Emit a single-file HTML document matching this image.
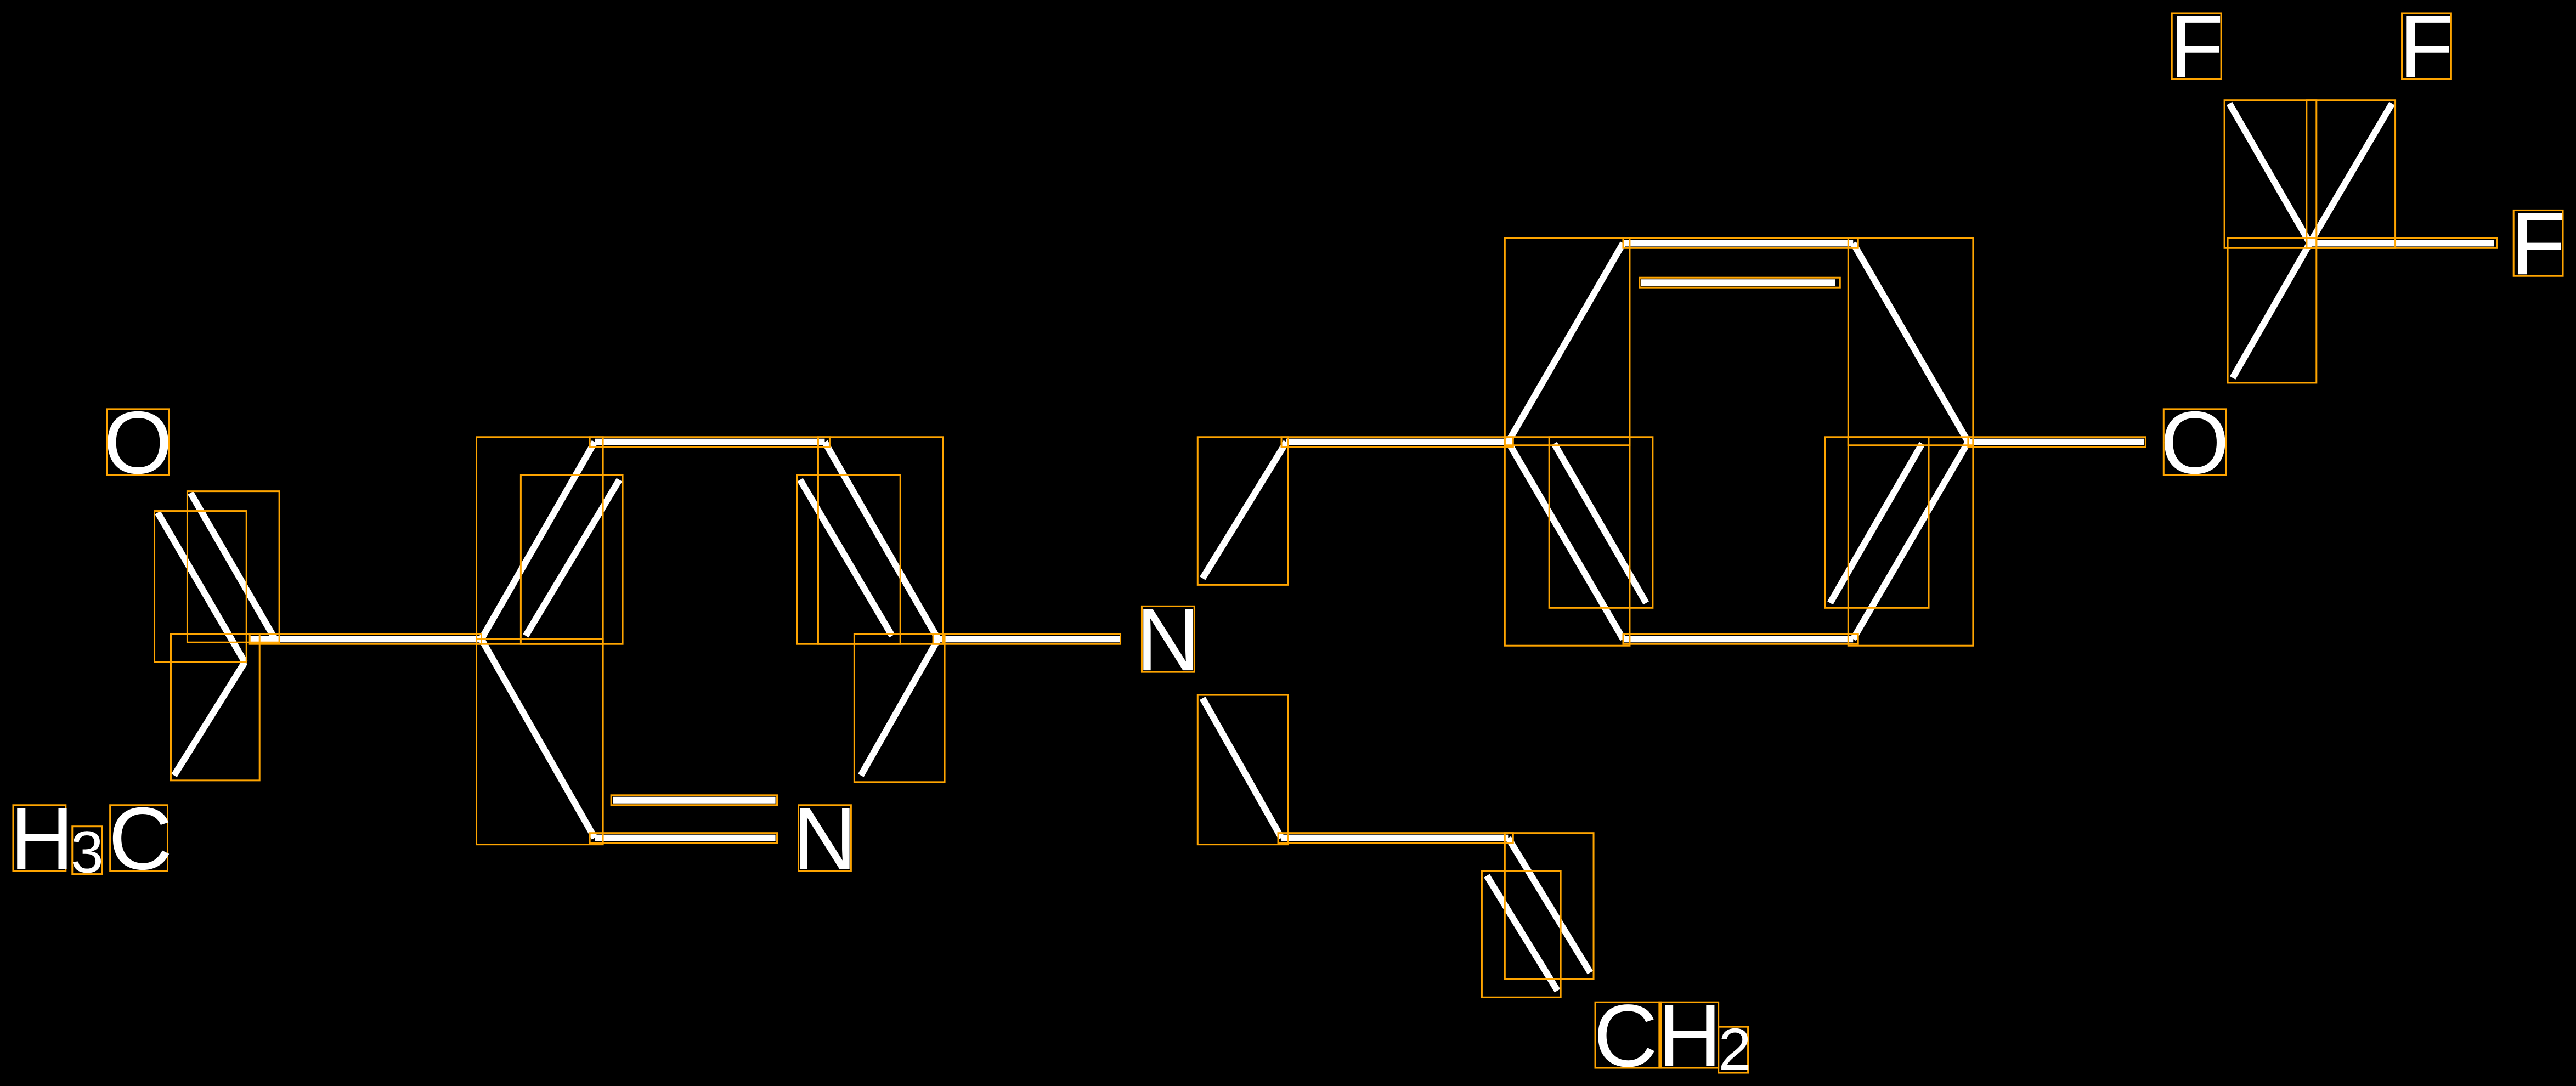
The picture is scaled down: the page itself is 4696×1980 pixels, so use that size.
<!DOCTYPE html>
<html><head><meta charset="utf-8"><style>html,body{margin:0;padding:0;background:#000}svg{display:block}</style></head>
<body>
<svg width="4696" height="1980" viewBox="0 0 1568 661" preserveAspectRatio="none" xmlns="http://www.w3.org/2000/svg">
<rect width="1568" height="661" fill="#000"/>
<g stroke="#fff" stroke-width="4" fill="none">
<line x1="96" y1="312" x2="149" y2="403"/>
<line x1="116" y1="300" x2="168" y2="390"/>
<line x1="149" y1="403" x2="106" y2="472"/>
<line x1="152" y1="389" x2="293" y2="389"/>
<line x1="293" y1="389" x2="362" y2="269"/>
<line x1="320" y1="387" x2="377" y2="292"/>
<line x1="362" y1="269" x2="502" y2="269"/>
<line x1="502" y1="269" x2="571" y2="389"/>
<line x1="487" y1="292" x2="543" y2="387"/>
<line x1="571" y1="389" x2="524" y2="472"/>
<line x1="293" y1="389" x2="362" y2="510"/>
<line x1="362" y1="510" x2="472" y2="510"/>
<line x1="373" y1="487" x2="472" y2="487"/>
<line x1="571" y1="389" x2="682" y2="389"/>
<line x1="732" y1="352" x2="783" y2="269"/>
<line x1="783" y1="269" x2="918" y2="269"/>
<line x1="918" y1="269" x2="988" y2="148"/>
<line x1="988" y1="148" x2="1128" y2="148"/>
<line x1="999" y1="172" x2="1117" y2="172"/>
<line x1="1128" y1="148" x2="1198" y2="269"/>
<line x1="1198" y1="269" x2="1128" y2="389"/>
<line x1="1170" y1="270" x2="1114" y2="367"/>
<line x1="1128" y1="389" x2="988" y2="389"/>
<line x1="988" y1="389" x2="918" y2="269"/>
<line x1="946" y1="270" x2="1002" y2="367"/>
<line x1="1198" y1="269" x2="1305" y2="269"/>
<line x1="1406" y1="148" x2="1518" y2="148"/>
<line x1="1406" y1="148" x2="1357" y2="63"/>
<line x1="1406" y1="148" x2="1456" y2="63"/>
<line x1="1406" y1="148" x2="1359" y2="230"/>
<line x1="732" y1="425" x2="780" y2="510"/>
<line x1="780" y1="510" x2="918" y2="510"/>
<line x1="918" y1="510" x2="968" y2="592"/>
<line x1="905" y1="533" x2="948" y2="603"/>
</g>
<g stroke="#ffa500" stroke-width="1" fill="none">
<rect x="65" y="249" width="38" height="40"/>
<rect x="94" y="311" width="56" height="92"/>
<rect x="114" y="299" width="56" height="92"/>
<rect x="104" y="386" width="54" height="89"/>
<rect x="152" y="386" width="141" height="6"/>
<rect x="290" y="266" width="77" height="126"/>
<rect x="317" y="289" width="62" height="103"/>
<rect x="290" y="389" width="77" height="125"/>
<rect x="359" y="266" width="146" height="6"/>
<rect x="498" y="266" width="76" height="126"/>
<rect x="485" y="289" width="63" height="103"/>
<rect x="520" y="386" width="55" height="90"/>
<rect x="568" y="386" width="114" height="6"/>
<rect x="372" y="484" width="101" height="6"/>
<rect x="359" y="507" width="114" height="6"/>
<rect x="486" y="490" width="32" height="40"/>
<rect x="695" y="369" width="32" height="40"/>
<rect x="729" y="266" width="55" height="90"/>
<rect x="780" y="266" width="141" height="6"/>
<rect x="916" y="145" width="76" height="126"/>
<rect x="988" y="145" width="143" height="6"/>
<rect x="998" y="169" width="122" height="6"/>
<rect x="1125" y="145" width="76" height="126"/>
<rect x="1198" y="266" width="108" height="6"/>
<rect x="916" y="266" width="76" height="127"/>
<rect x="943" y="266" width="63" height="104"/>
<rect x="1111" y="266" width="63" height="104"/>
<rect x="1125" y="266" width="76" height="127"/>
<rect x="988" y="386" width="143" height="6"/>
<rect x="1317" y="249" width="38" height="40"/>
<rect x="1354" y="61" width="56" height="90"/>
<rect x="1404" y="61" width="54" height="90"/>
<rect x="1404" y="145" width="116" height="6"/>
<rect x="1356" y="145" width="54" height="88"/>
<rect x="1322" y="8" width="30" height="40"/>
<rect x="1462" y="8" width="30" height="40"/>
<rect x="1530" y="128" width="30" height="40"/>
<rect x="729" y="423" width="55" height="91"/>
<rect x="778" y="507" width="143" height="6"/>
<rect x="916" y="507" width="54" height="89"/>
<rect x="902" y="530" width="48" height="77"/>
<rect x="971" y="610" width="40" height="40"/>
<rect x="1010" y="610" width="36" height="40"/>
<rect x="1046" y="625" width="18" height="28"/>
<rect x="8" y="490" width="32" height="40"/>
<rect x="44" y="503" width="18" height="29"/>
<rect x="67" y="490" width="35" height="40"/>
</g>
<g fill="#fff" font-family="Liberation Sans, sans-serif" font-size="54">
<text x="84" y="288" text-anchor="middle">O</text>
<text x="502" y="529" text-anchor="middle">N</text>
<text x="711" y="408" text-anchor="middle">N</text>
<text x="1336" y="288" text-anchor="middle">O</text>
<text x="1337" y="47" text-anchor="middle">F</text>
<text x="1477" y="47" text-anchor="middle">F</text>
<text x="1545" y="167" text-anchor="middle">F</text>
<text x="970" y="649">CH</text>
<text x="1046" y="651" font-size="36">2</text>
<text x="6" y="529">H</text>
<text x="43" y="531" font-size="36">3</text>
<text x="66" y="529">C</text>
</g>
</svg>
</body></html>
